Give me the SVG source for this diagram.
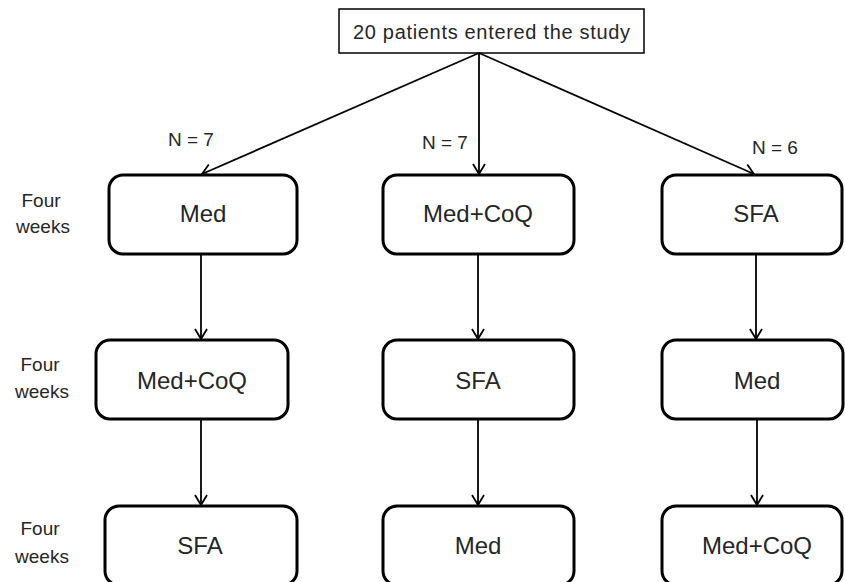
<svg xmlns="http://www.w3.org/2000/svg" width="845" height="582" viewBox="0 0 845 582">
<style>
text{font-family:"Liberation Sans",Arial,sans-serif;fill:#262626}
.box{fill:#fff;stroke:#000;stroke-width:3}
.top{fill:#fff;stroke:#000;stroke-width:1.5}
.lbl{font-size:24px;text-anchor:middle}
.side{font-size:19px;text-anchor:middle}
.n{font-size:19px}
.conn line{stroke:#000;stroke-width:1.8;marker-end:url(#ah)}
</style>
<defs>
<marker id="ah" markerUnits="userSpaceOnUse" markerWidth="16" markerHeight="16" refX="11" refY="7" orient="auto">
<path d="M1,1 L11,7 L1,13" fill="none" stroke="#000" stroke-width="1.8"/>
</marker>
</defs>
<rect width="845" height="582" fill="#fff"/>
<g id="start"><rect class="top" x="339" y="9" width="305" height="44"/><text x="353" y="39" font-size="20" textLength="277" lengthAdjust="spacing">20 patients entered the study</text></g>
<g id="weeks1"><text class="side" x="41" y="207">Four</text><text class="side" x="43" y="233">weeks</text></g>
<g id="weeks2"><text class="side" x="40" y="371">Four</text><text class="side" x="42" y="398">weeks</text></g>
<g id="weeks3"><text class="side" x="40" y="535">Four</text><text class="side" x="42" y="563">weeks</text></g>
<g id="n1"><text class="n" x="168" y="146">N = 7</text></g>
<g id="n2"><text class="n" x="422" y="149">N = 7</text></g>
<g id="n3"><text class="n" x="752" y="154">N = 6</text></g>
<g class="conn">
<line x1="479" y1="53" x2="202" y2="174"/>
<line x1="479" y1="53" x2="479" y2="174"/>
<line x1="479" y1="53" x2="754" y2="174"/>
<line x1="201" y1="254" x2="201" y2="339"/>
<line x1="478" y1="254" x2="478" y2="339"/>
<line x1="756" y1="254" x2="756" y2="339"/>
<line x1="201" y1="419" x2="201" y2="505"/>
<line x1="478" y1="419" x2="478" y2="505"/>
<line x1="757" y1="419" x2="757" y2="505"/>
</g>
<g id="a1"><rect class="box" x="109" y="175" width="188" height="79" rx="14"/><text class="lbl" x="203" y="222">Med</text></g>
<g id="b1"><rect class="box" x="383" y="175" width="191" height="79" rx="14"/><text class="lbl" x="478" y="222">Med+CoQ</text></g>
<g id="c1"><rect class="box" x="662" y="175" width="180" height="79" rx="14"/><text class="lbl" x="756" y="222">SFA</text></g>
<g id="a2"><rect class="box" x="96" y="340" width="192" height="79" rx="14"/><text class="lbl" x="192" y="389">Med+CoQ</text></g>
<g id="b2"><rect class="box" x="383" y="340" width="191" height="79" rx="14"/><text class="lbl" x="478" y="389">SFA</text></g>
<g id="c2"><rect class="box" x="662" y="340" width="181" height="79" rx="14"/><text class="lbl" x="757" y="389">Med</text></g>
<g id="a3"><rect class="box" x="105" y="506" width="192" height="79" rx="14"/><text class="lbl" x="200" y="554">SFA</text></g>
<g id="b3"><rect class="box" x="383" y="506" width="191" height="79" rx="14"/><text class="lbl" x="478" y="554">Med</text></g>
<g id="c3"><rect class="box" x="662" y="506" width="180" height="79" rx="14"/><text class="lbl" x="757" y="554">Med+CoQ</text></g>
</svg>
